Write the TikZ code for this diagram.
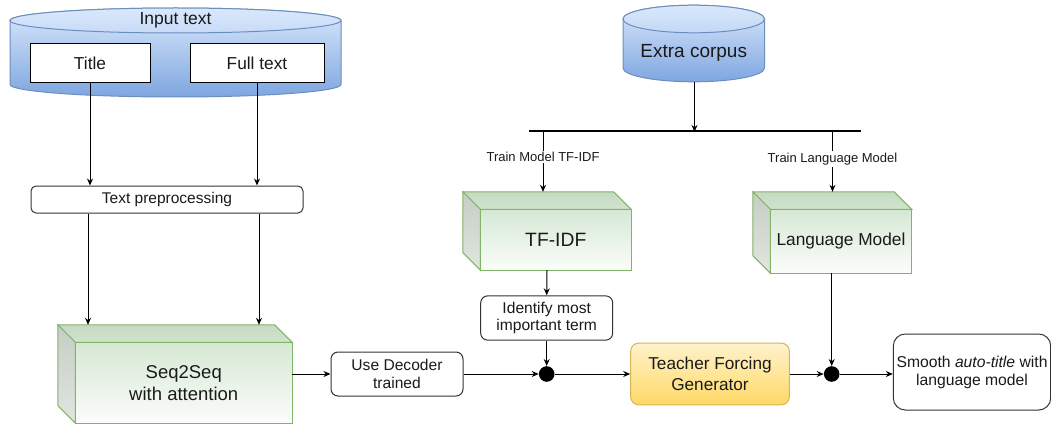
\documentclass[tikz,border=0pt]{standalone}
\usepackage{fontspec}
\setmainfont{Liberation Sans}
\usetikzlibrary{arrows.meta,calc,fit}
\definecolor{textc}{HTML}{1A1A1A}
\definecolor{strokec}{HTML}{333333}
\definecolor{bluetop}{HTML}{DAE8FC}
\definecolor{bluebot}{HTML}{7EA6E0}
\definecolor{bluestroke}{HTML}{6C8EBF}
\definecolor{greentop}{HTML}{D5E8D4}
\definecolor{greenbot}{HTML}{FBFDFA}
\definecolor{greenstroke}{HTML}{82B366}
\definecolor{gtopA}{HTML}{C6DAC3}
\definecolor{gtopB}{HTML}{D0E3CD}
\definecolor{gsideA}{HTML}{C4CEC3}
\definecolor{gsideB}{HTML}{E2E5E1}
\definecolor{yeltop}{HTML}{FFF2CC}
\definecolor{yelbot}{HTML}{FFD966}
\definecolor{yelstroke}{HTML}{D6B656}
\newcommand{\drawgreencube}[2]{%
  \path[draw=greenstroke, line width=1pt, top color=gtopA, bottom color=gtopB]
    (#1.north west) -- ($(#1.north east)+(-#2,0)$) -- ($(#1.north east)+(0,#2)$) -- ($(#1.north west)+(#2,#2)$) -- cycle;
  \path[draw=greenstroke, line width=1pt, top color=gsideA, bottom color=gsideB]
    (#1.north west) -- ($(#1.north west)+(#2,#2)$) -- ($(#1.south west)+(#2,0)$) -- ($(#1.south west)+(0,-#2)$) -- cycle;
  \path[draw=greenstroke, line width=1pt, top color=greentop, bottom color=greenbot]
    ($(#1.north west)+(#2,#2)$) rectangle (#1.south east);
}
\begin{document}
\begin{tikzpicture}[x=1pt,y=-1pt,
  fs/.style 2 args={font=\fontsize{#1}{#2}\selectfont},
  txt/.style={text=textc, inner sep=1pt, align=center},
  arr/.style={line width=1pt, draw=black, -{Stealth[length=7pt,width=6pt]}},
  sqbox/.style={txt, draw=black, line width=1pt, fill=white},
  rbox/.style={txt, draw=strokec, line width=1pt, fill=white, rounded corners=#1},
  jdot/.style={circle, fill=black, draw=none, minimum size=15.6pt, inner sep=0pt},
  lbl/.style={txt, fill=white, fs={13}{15}, inner sep=1.5pt},
  cubearea/.style={inner sep=0pt, draw=none}
]
\useasboundingbox (0,0) rectangle (1051,425);

% ---------- Input text cylinder ----------
\path[draw=bluestroke, line width=1pt, top color=bluetop, bottom color=bluebot]
  (10,20.5) .. controls (10,13.6) and (84.1,8) .. (175.5,8)
  .. controls (266.9,8) and (341,13.6) .. (341,20.5)
  -- (341,84.5) .. controls (341,91.4) and (266.9,97) .. (175.5,97)
  .. controls (84.1,97) and (10,91.4) .. (10,84.5) -- cycle;
\path[draw=bluestroke, line width=1pt, top color=bluetop, bottom color=bluetop!80!bluebot]
  (10,20.5) .. controls (10,13.6) and (84.1,8) .. (175.5,8)
  .. controls (266.9,8) and (341,13.6) .. (341,20.5)
  .. controls (341,27.4) and (266.9,33) .. (175.5,33)
  .. controls (84.1,33) and (10,27.4) .. (10,20.5) -- cycle;
\node[txt, fs={17.5}{20}] (intext) at (175.5,20.5) {Input text};
\node[sqbox, fs={17.3}{20}, minimum width=120, minimum height=39] (title) at (90,63.5) {Title};
\node[sqbox, fs={17.3}{20}, minimum width=134, minimum height=39] (fulltext) at (257,63.5) {Full text};

% ---------- Text preprocessing ----------
\node[rbox=5pt, fs={15.5}{18}, minimum width=272, minimum height=27] (preproc) at (167,199.5) {Text preprocessing};

% ---------- Seq2Seq cube ----------
\coordinate (seqA) at (58,325);
\coordinate (seqB) at (292,423);
\node[cubearea, fit=(seqA)(seqB)] (seq) {};
\drawgreencube{seq}{17.5}
\node[txt, fs={18.5}{22}] (seqtxt) at ($(seq.center)+(8.75,9)$) {Seq2Seq\\with attention};

% ---------- Use Decoder ----------
\node[rbox=7pt, fs={15.6}{17.5}, minimum width=132, minimum height=44] (usedec) at (397,374) {Use Decoder\\trained};

% ---------- Extra corpus cylinder ----------
\path[draw=bluestroke, line width=1pt, top color=bluetop, bottom color=bluebot]
  (623,19) .. controls (623,11.4) and (654.65,5.2) .. (693.75,5.2)
  .. controls (732.85,5.2) and (764.5,11.4) .. (764.5,19)
  -- (764.5,68) .. controls (764.5,75.6) and (732.85,81.8) .. (693.75,81.8)
  .. controls (654.65,81.8) and (623,75.6) .. (623,68) -- cycle;
\path[draw=bluestroke, line width=1pt, top color=bluetop, bottom color=bluetop!75!bluebot]
  (623,19) .. controls (623,11.4) and (654.65,5.2) .. (693.75,5.2)
  .. controls (732.85,5.2) and (764.5,11.4) .. (764.5,19)
  .. controls (764.5,26.6) and (732.85,32.8) .. (693.75,32.8)
  .. controls (654.65,32.8) and (623,26.6) .. (623,19) -- cycle;
\node[txt, fs={19}{22}] (extra) at (693.75,53) {Extra corpus};
\coordinate (extrab) at (694.5,81.8);

% ---------- bar ----------
\coordinate (barL) at (529,131);
\coordinate (barR) at (861,131);
\coordinate (barM) at (694.5,131);
\coordinate (br1) at (543,131);
\coordinate (br2) at (832.5,131);
\draw[line width=2pt, black] (barL) -- (barR);

% ---------- TF-IDF cube ----------
\coordinate (tfA) at (463,192);
\coordinate (tfB) at (631,270);
\node[cubearea, fit=(tfA)(tfB)] (tfidf) {};
\drawgreencube{tfidf}{17.5}
\node[txt, fs={19.3}{22}] (tftxt) at ($(tfidf.center)+(8.75,8.75)$) {TF-IDF};

% ---------- Language Model cube ----------
\coordinate (lmA) at (753,192);
\coordinate (lmB) at (911.5,273);
\node[cubearea, fit=(lmA)(lmB)] (lm) {};
\drawgreencube{lm}{17.5}
\node[txt, fs={17.3}{20}] (lmtxt) at ($(lm.center)+(8.75,9)$) {Language Model};

% ---------- Identify ----------
\node[rbox=7pt, fs={15.6}{17.7}, minimum width=132, minimum height=44.3] (ident) at (546.7,318) {Identify most\\important term};

% ---------- junctions, teacher, smooth ----------
\node[jdot] (j1) at (546.7,374) {};
\node[txt, fs={17.2}{21}, draw=yelstroke, line width=1pt, top color=yeltop, bottom color=yelbot, rounded corners=8pt, minimum width=158.6, minimum height=61.7] (teacher) at (710,374) {Teacher Forcing\\Generator};
\node[jdot] (j2) at (831.7,374) {};
\node[rbox=12pt, fs={15.7}{18}, minimum width=157.4, minimum height=76] (smooth) at (972,372) {Smooth \textit{auto-title} with\\language model};

% ---------- connectors ----------
\draw[arr] (title.south) -- (title.south |- preproc.north);
\draw[arr] (fulltext.south) -- (fulltext.south |- preproc.north);
\draw[arr] ([xshift=-79pt]preproc.south) -- ([xshift=-79pt]preproc.south |- seq.north);
\draw[arr] ([xshift=92pt]preproc.south) -- ([xshift=92pt]preproc.south |- seq.north);
\draw[arr] (seq.east) -- (seq.east -| usedec.west);
\draw[arr] (usedec.east) -- (j1.west);
\draw[arr] (extrab) -- ([yshift=-1pt]barM);
\draw[arr] (br1) -- node[lbl, pos=0.43] (lbl1) {Train Model TF-IDF} (br1 |- tfidf.north);
\draw[arr] (br2) -- node[lbl, pos=0.46] (lbl2) {Train Language Model} (br2 |- lm.north);
\draw[arr] (tfidf.south) -- (ident.north);
\draw[arr] (ident.south) -- (j1.north);
\draw[arr] (j1.east) -- (teacher.west);
\draw[arr] (teacher.east) -- (j2.west);
\draw[arr] (lm.south -| j2.north) -- (j2.north);
\draw[arr] (j2.east) -- (smooth.west |- j2.east);
\end{tikzpicture}
\end{document}
